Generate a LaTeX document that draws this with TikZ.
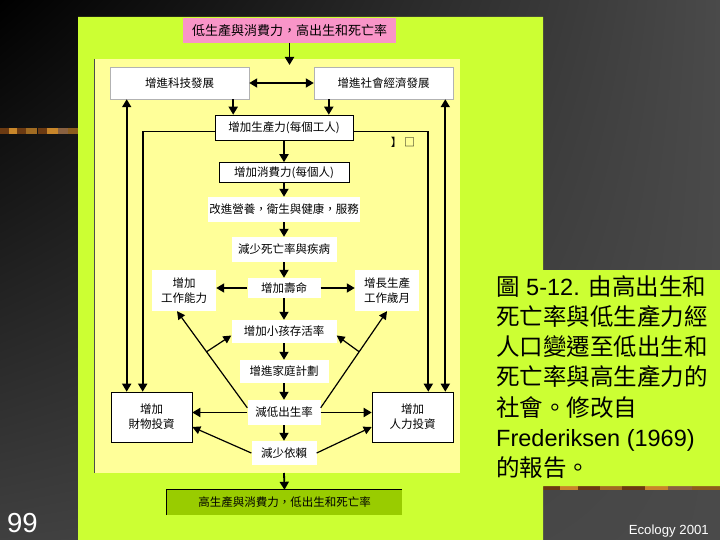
\documentclass[tikz,border=0pt]{standalone}
\usepackage{fontspec}
\setmainfont{Liberation Sans}
\newfontfamily\cjk{Noto Sans CJK TC}
\usetikzlibrary{arrows.meta, shadings}
\definecolor{panelgreen}{HTML}{CCFF33}
\definecolor{paleyellow}{HTML}{FFFF99}
\definecolor{slidepink}{HTML}{F995C8}
\definecolor{stepgreen}{HTML}{99CC00}
\definecolor{slidegray}{HTML}{4A4A4A}
\definecolor{stripdark}{HTML}{6B3A12}
\definecolor{striplight}{HTML}{C8862A}
\begin{document}
\begin{tikzpicture}[x=1pt, y=-1pt,
  box/.style={fill=white, inner sep=1pt, align=center,
    font=\cjk\fontsize{11.5}{15}\selectfont},
  framed/.style={draw=black, line width=0.6pt},
  dims/.style 2 args={minimum width=#1pt, minimum height=#2pt},
  arr/.style={line width=1.8pt, -{Triangle[length=8pt,width=9pt]}},
  dbl/.style={line width=1.8pt, {Triangle[length=8pt,width=9pt]}-{Triangle[length=8pt,width=9pt]}},
  diag/.style={line width=1.2pt, -{Triangle[length=8pt,width=8pt]}}]
  \useasboundingbox (0,0) rectangle (720,540);
  % slide background
  \shade[upper left=black, upper right=slidegray, lower left=black!75, lower right=slidegray]
    (0,0) rectangle (720,540);
  \foreach \x/\c in {0/stripdark, 9/striplight, 17/stripdark, 26/striplight!80!black,
      38/stripdark, 47/striplight, 58/stripdark!80, 68/striplight!70!black}
    \fill[\c] (\x,128) rectangle ++(11,6);
  \foreach \x/\c in {543/stripdark, 560/striplight, 578/stripdark, 600/striplight!80!black,
      622/stripdark, 645/striplight, 668/stripdark!80, 692/striplight!70!black}
    \fill[\c] (\x,486) rectangle ++(28,4);
  \fill[panelgreen] (78,17) -- (543,17) -- (543,270) -- (720,270) -- (720,486)
    -- (543,486) -- (543,540) -- (78,540) -- cycle;
  \fill[paleyellow] (94,59) rectangle (460,473);
  \draw[black!70, line width=0.8pt] (94,59) -- (94,473);

  % boxes
  \node[box, fill=slidepink, dims={213}{25}, font=\cjk\fontsize{13}{15}\selectfont]
    (start) at (289.5,30.5) {低生產與消費力，高出生和死亡率};
  \node[box, draw=gray!60, dims={139}{32}] (tech) at (179.5,83) {增進科技發展};
  \node[box, draw=gray!60, dims={139}{32}] (socio) at (383.5,83) {增進社會經濟發展};
  \node[box, framed, dims={138}{25}] (prod) at (284,127.5) {增加生產力(每個工人)};
  \node[box, framed, dims={130}{20}] (cons) at (284,172.5) {增加消費力(每個人)};
  \node[box, dims={147}{25}] (nutri) at (284,209.5) {改進營養，衛生與健康，服務};
  \node[box, dims={105}{25}] (mort) at (284,249.5) {減少死亡率與疾病};
  \node[box, dims={73}{20}] (life) at (284,288) {增加壽命};
  \node[box, dims={64}{41}] (work) at (184,290.5) {增加\\工作能力};
  \node[box, dims={64}{41}] (years) at (387,290.5) {增長生產\\工作歲月};
  \node[box, dims={105}{23}] (child) at (284,331.5) {增加小孩存活率};
  \node[box, dims={89}{23}] (plan) at (284,371.5) {增進家庭計劃};
  \node[box, dims={73}{25}] (birth) at (284,412.5) {減低出生率};
  \node[box, dims={65}{24}] (dep) at (284,453) {減少依賴};
  \node[box, framed, dims={81}{50}] (phys) at (151.5,417) {增加\\財物投資};
  \node[box, framed, dims={81}{50}] (human) at (412.5,417) {增加\\人力投資};
  \node[box, fill=stepgreen, dims={235}{25}] (goal) at (284.5,502.5)
    {高生產與消費力，低出生和死亡率};
  \draw[line width=0.8pt] (goal.south west) -- (goal.north west) -- (goal.north east);
  \node[font=\cjk\fontsize{11}{13}\selectfont, inner sep=0pt] (mark) at (403,142) {】 □};
  \coordinate (entry) at (289.5,65);
  \coordinate (exit) at (284,473);

  % connectors
  \draw[arr] (start.south) -- (entry);
  \draw[dbl] (tech.east) -- (socio.west);
  \draw[arr] ([xshift=-16pt]tech.south east) -- ([xshift=-16pt]tech.south east |- prod.north);
  \draw[arr] ([xshift=15pt]socio.south west) -- ([xshift=15pt]socio.south west |- prod.north);
  \draw[arr] (prod) -- (cons);
  \draw[arr] (cons) -- (nutri);
  \draw[arr] (nutri) -- (mort);
  \draw[arr] (mort) -- (life);
  \draw[arr] (life) -- (child);
  \draw[arr] (child) -- (plan);
  \draw[arr] (plan) -- (birth);
  \draw[arr] (birth) -- (dep);
  \draw[arr] (exit) -- (goal.north);
  \draw[arr] (life.west) -- (life.west -| work.east);
  \draw[arr] (life.east) -- (life.east -| years.west);
  \draw[arr] (birth.west) -- (birth.west -| phys.east);
  \draw[arr] (birth.east) -- (birth.east -| human.west);
  \draw[arr] ([yshift=-4pt]prod.west) -| ([xshift=32pt]phys.north west);
  \draw[arr] ([yshift=-4pt]prod.east) -| ([xshift=-25pt]human.north east);
  \draw[dbl] ([xshift=16pt]phys.north west) -- ([xshift=16pt]phys.north west |- tech.south);
  \draw[dbl] ([xshift=-8pt]human.north east) -- ([xshift=-8pt]human.north east |- socio.south);
  \draw[diag] ([yshift=-8pt]birth.north west) -- coordinate[pos=0.58] (lsplit) ([xshift=-7pt]work.south);
  \draw[diag] ([yshift=-8pt]birth.north east) -- coordinate[pos=0.58] (rsplit) (years.south);
  \draw[diag] (lsplit) -- ([yshift=-4pt]child.west);
  \draw[diag] (rsplit) -- ([yshift=-4pt]child.east);
  \draw[diag] (dep.west) -- ([yshift=-10pt]phys.east);
  \draw[diag] (dep.east) -- ([yshift=-10pt]human.west);

  % caption and slide texts
  \node[anchor=north west, inner sep=0pt, align=left, font=\fontsize{23.5}{30.3}\selectfont]
    (caption) at (496,275) {{\cjk 圖} 5-12. {\cjk 由高出生和}\\
    {\cjk 死亡率與低生產力經}\\
    {\cjk 人口變遷至低出生和}\\
    {\cjk 死亡率與高生產力的}\\
    {\cjk 社會。修改自}\\
    Frederiksen (1969)\\
    {\cjk 的報告。}};
  \node[anchor=base west, inner sep=0pt, text=white, font=\fontsize{27.5}{30}\selectfont]
    (pagenum) at (7,532) {99};
  \node[anchor=base east, inner sep=0pt, text=white, font=\fontsize{13.2}{15}\selectfont]
    (footer) at (709,534) {Ecology 2001};
\end{tikzpicture}
\end{document}
